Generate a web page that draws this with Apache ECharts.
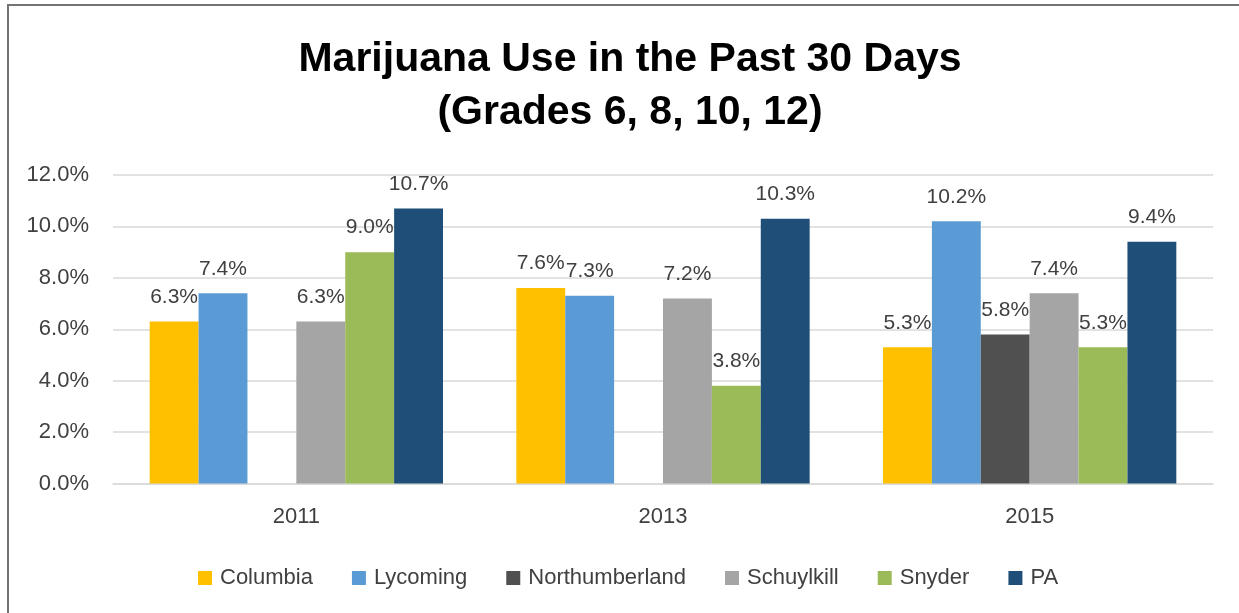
<!DOCTYPE html>
<html>
<head>
<meta charset="utf-8">
<script src="https://cdn.jsdelivr.net/npm/echarts@6/dist/echarts.min.js"></script>
<style>
  html, body { margin: 0; padding: 0; background: #ffffff; }
  #chart { width: 1239px; height: 613px; }
</style>
</head>
<body>
<div id="chart"></div>
<script>
const years = ['2011', '2013', '2015'];
const seriesNames = ['Columbia', 'Lycoming', 'Northumberland', 'Schuylkill', 'Snyder', 'PA'];
const columbia = [6.3, 7.6, 5.3];
const lycoming = [7.4, 7.3, 10.2];
const northumberland = [null, null, 5.8];
const schuylkill = [6.3, 7.2, 7.4];
const snyder = [9.0, 3.8, 5.3];
const pa = [10.7, 10.3, 9.4];
const yTicks = [0, 2, 4, 6, 8, 10, 12];

const seriesValues = [columbia, lycoming, northumberland, schuylkill, snyder, pa];
const colors = ['#FFC000', '#5B9BD5', '#505050', '#A5A5A5', '#9BBB59', '#1F4E79'];
const font = 'Liberation Sans, Arial, sans-serif';

const chart = echarts.init(document.getElementById('chart'), null, { renderer: 'canvas' });

chart.setOption({
  animation: false,
  backgroundColor: '#ffffff',
  color: colors,
  title: {
    text: 'Marijuana Use in the Past 30 Days\n(Grades 6, 8, 10, 12)',
    left: 625,
    textAlign: 'center',
    top: 28,
    textStyle: {
      fontFamily: font,
      fontSize: 41,
      fontWeight: 'bold',
      color: '#000000',
      lineHeight: 53
    }
  },
  graphic: [{
    type: 'rect',
    silent: true,
    shape: { x: 8, y: 5, width: 1300, height: 700 },
    style: { fill: null, stroke: '#737373', lineWidth: 2 }
  }],
  legend: {
    data: seriesNames,
    left: 193,
    top: 562,
    icon: 'rect',
    itemWidth: 14,
    itemHeight: 14,
    itemGap: 39,
    textStyle: {
      fontFamily: font,
      fontSize: 22,
      color: '#404040',
      padding: [0, 0, 0, 3]
    }
  },
  grid: {
    left: 113,
    right: 26,
    top: 175,
    bottom: 129.5,
    containLabel: false
  },
  xAxis: {
    type: 'category',
    data: years,
    axisLine: { show: true, lineStyle: { color: '#d9d9d9', width: 1.5 } },
    axisTick: { show: false },
    axisLabel: {
      fontFamily: font,
      fontSize: 22,
      color: '#404040',
      margin: 22
    }
  },
  yAxis: {
    type: 'value',
    min: yTicks[0],
    max: yTicks[yTicks.length - 1],
    interval: 2,
    axisLine: { show: false },
    axisTick: { show: false },
    splitLine: { lineStyle: { color: '#d9d9d9', width: 1.5 } },
    axisLabel: {
      fontFamily: font,
      fontSize: 22,
      color: '#404040',
      margin: 24,
      formatter: v => v.toFixed(1) + '%'
    }
  },
  series: seriesNames.map((name, i) => ({
    name: name,
    type: 'bar',
    data: seriesValues[i],
    barGap: '0%',
    barCategoryGap: '20%',
    itemStyle: { color: colors[i] },
    label: {
      show: true,
      position: 'top',
      distance: 14,
      fontFamily: font,
      fontSize: 21,
      color: '#404040',
      formatter: p => (p.value == null ? '' : p.value.toFixed(1) + '%')
    }
  }))
});
</script>
</body>
</html>
